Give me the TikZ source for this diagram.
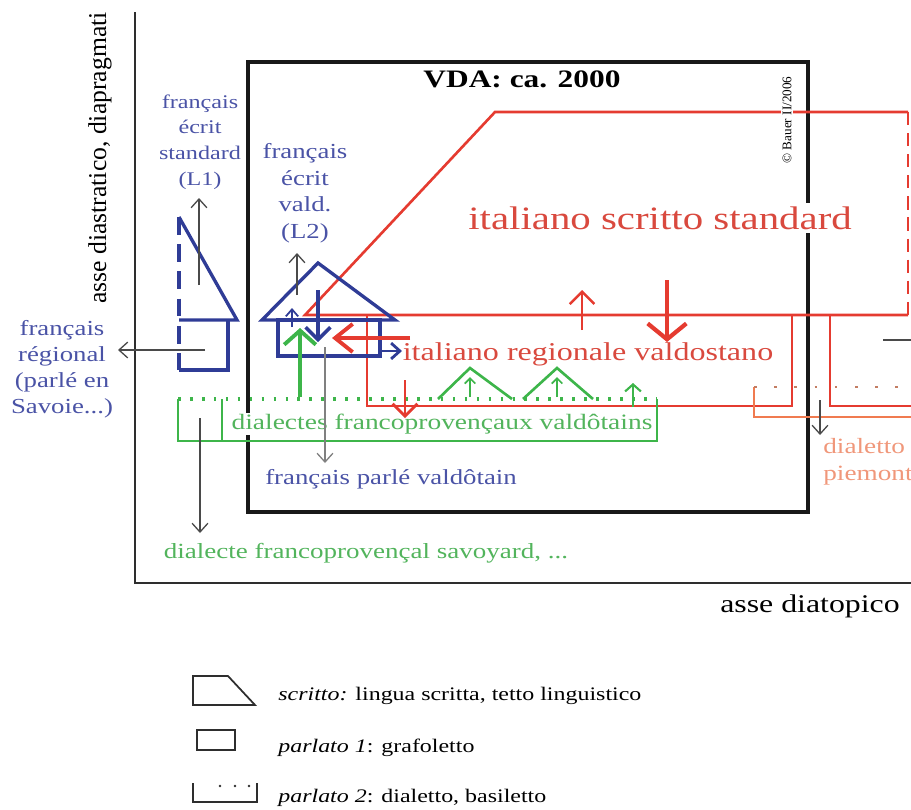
\documentclass[tikz,border=0pt]{standalone}
\usepackage{fontspec}
\setmainfont{Liberation Serif}[FakeStretch=1.25]
\newfontfamily\plainserif{Liberation Serif}
\usetikzlibrary{arrows.meta}
\definecolor{itred}{HTML}{E53B30}
\definecolor{itredtext}{HTML}{D9493E}
\definecolor{frblue}{HTML}{2F3C96}
\definecolor{frbluetext}{HTML}{4A53A6}
\definecolor{fpgreen}{HTML}{3DB54A}
\definecolor{fpgreentext}{HTML}{52B45C}
\definecolor{pmorange}{HTML}{F07B50}
\definecolor{pmorangetext}{HTML}{F0977A}
\definecolor{arrowgray}{HTML}{4A4A4A}
\definecolor{axisgray}{HTML}{2E2E2E}

\begin{document}
\begin{tikzpicture}[x=0.02cm, y=-0.02cm,
    txt/.style={inner sep=0pt, align=center},
    redline/.style={draw=itred, line width=1.5pt},
    blueline/.style={draw=frblue, line width=1.9pt},
    greenline/.style={draw=fpgreen, line width=1.5pt},
    keyline/.style={draw=axisgray, line width=1pt},
    thinarrow/.style={draw=arrowgray, line width=0.75pt,
      -{Straight Barb[length=5pt, width=9pt]}}
  ]
  \useasboundingbox (0,0) rectangle (911,809);

  % axes
  \draw[axisgray, line width=1.2pt] (135,12) -- (135,583) -- (911,583);
  \node[txt, rotate=90, font=\plainserif\fontsize{14.6}{17}\selectfont]
    (diastratic) at (100,158) {asse diastratico, diapragmati};
  \node[txt, anchor=base, font=\fontsize{14.5}{17}\selectfont]
    (diatopic) at (810,612) {asse diatopico};

  % VDA frame
  \draw[black!90, line width=1.9pt] (248,62) rectangle (808,512);
  \node[txt, anchor=base, font=\bfseries\fontsize{14.3}{17}\selectfont]
    (vdatitle) at (522,87) {VDA: ca. 2000};

  % italiano scritto / regionale
  \draw[redline] (908,315) -- (305,315) -- (495,112) -- (908,112);
  \draw[redline, dash pattern=on 7.5pt off 4.5pt] (908,112) -- (908,315);
  \draw[redline] (367,315) -- (367,406) -- (792,406) -- (792,315);
  \draw[redline] (830,315) -- (830,406) -- (911,406);
  \node[txt, rotate=90, fill=white, inner sep=1pt,
    font=\plainserif\fontsize{7.5}{9}\selectfont]
    (copyright) at (787,120) {\textcopyright\ Bauer II/2006};
  \node[txt, anchor=base, fill=white, inner sep=2pt, text=itredtext,
    font=\fontsize{18.6}{22}\selectfont]
    (scritto) at (660,229) {italiano scritto standard};
  \node[txt, anchor=base, text=itredtext, font=\fontsize{14.6}{17}\selectfont]
    (regionale) at (588,360) {italiano regionale valdostano};

  % français standard (L1)
  \draw[blueline] (179,217) -- (237,320) -- (179,320);
  \draw[blueline, dash pattern=on 10pt off 5.5pt] (179,217) -- (179,370);
  \draw[blueline] (179,370) -- (228,370) -- (228,320);
  \node[txt, text=frbluetext, font=\fontsize{11}{14.7}\selectfont]
    (frL1) at (200,142) {français\\écrit\\standard\\(L1)};
  \node[txt, text=frbluetext, font=\fontsize{12.2}{14.7}\selectfont]
    (frregional) at (62,369) {français\\régional\\(parlé en\\Savoie...)};
  \draw[thinarrow] (199,285) -- (199,198);
  \draw[thinarrow] (205,350) -- (118,350);

  % français valdôtain (L2)
  \draw[blueline] (262,320) -- (318,263) -- (395,320) -- cycle;
  \draw[blueline] (278,320) rectangle (380,356);
  \node[txt, text=frbluetext, font=\fontsize{12.2}{15.1}\selectfont]
    (frL2) at (305,193) {français\\écrit\\vald.\\(L2)};
  \node[txt, anchor=base, text=frbluetext, font=\fontsize{12.2}{15}\selectfont]
    (frparle) at (391,484) {français parlé valdôtain};
  \draw[thinarrow] (297,295) -- (297,253);
  \draw[frblue, line width=1pt, -{Straight Barb[length=4pt, width=7pt]}]
    (292,327) -- (292,308);
  \draw[frblue, line width=2pt, -{Straight Barb[length=7pt, width=14pt]}]
    (318,290) -- (318,342);
  \draw[frblue, line width=1.6pt, -{Straight Barb[length=5pt, width=9pt]}]
    (380,351) -- (402,351);

  % dialectes francoprovençaux
  \draw[greenline] (178,399) -- (178,441) -- (657,441) -- (657,399);
  \draw[greenline] (222,399) -- (222,441);
  \draw[fpgreen, line width=1.8pt, dash pattern=on 1.5pt off 5.3pt]
    (178,399) -- (657,399);
  \draw[greenline] (438,399) -- (470,368) -- (512,399);
  \draw[greenline] (523,399) -- (557,368) -- (593,399);
  \draw[fpgreen, line width=1pt, -{Straight Barb[length=3pt, width=6pt]}]
    (470,397) -- (470,377);
  \draw[fpgreen, line width=1pt, -{Straight Barb[length=3pt, width=6pt]}]
    (557,397) -- (557,377);
  \draw[fpgreen, line width=1.2pt, -{Straight Barb[length=4pt, width=9pt]}]
    (633,407) -- (633,383);
  \node[txt, anchor=base, fill=white, inner sep=0.5pt, text=fpgreentext,
    font=\fontsize{12.5}{15}\selectfont]
    (fpvaldo) at (442,429) {dialectes francoprovençaux valdôtains};
  \node[txt, anchor=base, text=fpgreentext, font=\fontsize{12.3}{15}\selectfont]
    (fpsavoy) at (366,558) {dialecte francoprovençal savoyard, ...};
  \draw[thinarrow, draw=gray] (325,347) -- (325,463);
  \draw[thinarrow] (200,418) -- (200,533);
  \draw[fpgreen, line width=2.2pt, -{Straight Barb[length=8pt, width=18pt]}]
    (300,397) -- (300,328);

  % red arrows
  \draw[itred, line width=1.4pt, -{Straight Barb[length=7pt, width=14pt]}]
    (582,330) -- (582,290);
  \draw[itred, line width=2.4pt, -{Straight Barb[length=9pt, width=22pt]}]
    (667,280) -- (667,342);
  \draw[itred, line width=1.6pt, -{Straight Barb[length=7pt, width=14pt]}]
    (405,380) -- (405,418);
  \draw[itred, line width=2.2pt, -{Straight Barb[length=10pt, width=16pt]}]
    (410,338) -- (332,338);

  % dialetto piemontese
  \draw[pmorange, line width=1.5pt] (754,387) -- (754,417) -- (911,417);
  \draw[pmorange!60!gray, line width=1.6pt, dash pattern=on 1.5pt off 10pt]
    (754,387) -- (911,387);
  \draw[thinarrow] (820,400) -- (820,435);
  \draw[arrowgray, line width=1pt] (883,340) -- (911,340);
  \node[txt, anchor=west, align=left, text=pmorangetext,
    font=\fontsize{12.4}{15.3}\selectfont]
    (piemont) at (823,462) {dialetto\\piemont};

  % legend
  \draw[keyline] (193,676) -- (228,676) -- (255,705) -- (193,705) -- cycle;
  \draw[keyline] (197,730) rectangle (235,750);
  \draw[keyline] (193,783) -- (193,802) -- (257,802) -- (257,783);
  \foreach \x in {220,235,249}
    \fill[axisgray] (\x,786) circle (1.3);
  \node[txt, anchor=base west, font=\fontsize{10.9}{13}\selectfont]
    (keyscritto) at (278,700) {\textit{scritto:} lingua scritta, tetto linguistico};
  \node[txt, anchor=base west, font=\fontsize{10.9}{13}\selectfont]
    (keyparlato) at (278,752) {\textit{parlato 1}: grafoletto};
  \node[txt, anchor=base west, font=\fontsize{10.9}{13}\selectfont]
    (keydialetto) at (278,802) {\textit{parlato 2}: dialetto, basiletto};
\end{tikzpicture}
\end{document}
